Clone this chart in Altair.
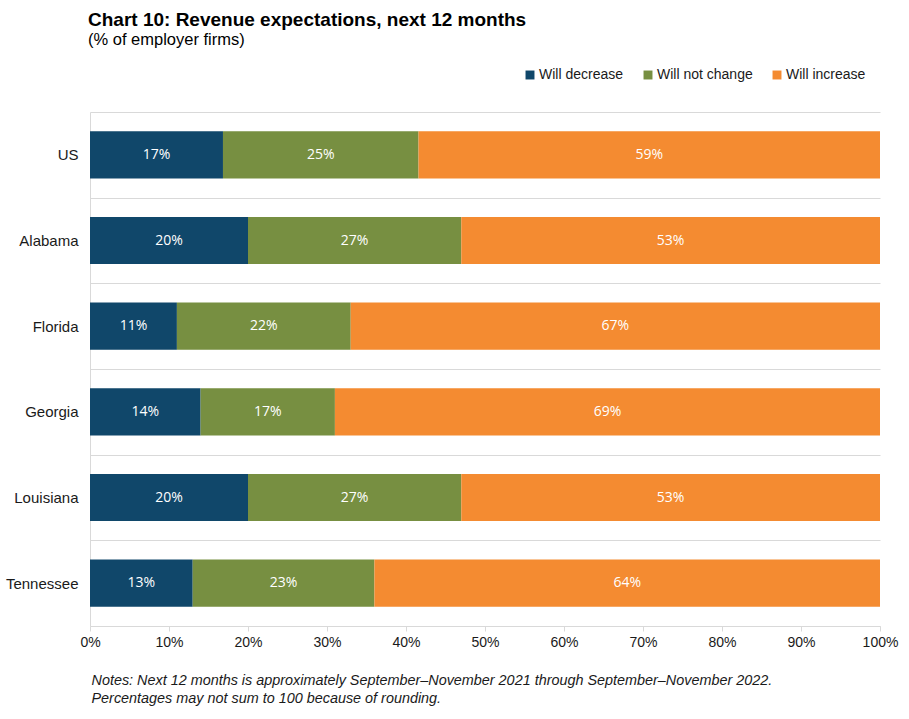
import altair as alt
import pandas as pd

# Survey responses, % of employer firms
regions = ["US", "Alabama", "Florida", "Georgia", "Louisiana", "Tennessee"]
will_decrease = [17, 20, 11, 14, 20, 13]
will_not_change = [25, 27, 22, 17, 27, 23]
will_increase = [59, 53, 67, 69, 53, 64]

responses = ["Will decrease", "Will not change", "Will increase"]
colors = ["#10476A", "#778F41", "#F48B31"]
x_ticks = [i / 10 for i in range(11)]

rows = []
for i, r in enumerate(regions):
    for k, (resp, vals) in enumerate(zip(responses, [will_decrease, will_not_change, will_increase])):
        rows.append({"region": r, "response": resp, "order": k, "value": vals[i]})
df = pd.DataFrame(rows)

notes = [
    "Notes: Next 12 months is approximately September\u2013November 2021 through September\u2013November 2022.",
    "Percentages may not sum to 100 because of rounding.",
]

base = alt.Chart(df).transform_stack(
    stack="value",
    groupby=["region"],
    as_=["x0", "x1"],
    offset="normalize",
    sort=[alt.SortField("order", order="ascending")],
).transform_calculate(
    xmid="(datum.x0 + datum.x1) / 2",
    label="datum.value + '%'",
)

y_enc = alt.Y(
    "region:N",
    sort=regions,
    title=None,
    scale=alt.Scale(paddingInner=0, paddingOuter=0),
    axis=alt.Axis(
        tickBand="extent",
        grid=True,
        gridColor="#D9D9D9",
        gridWidth=1,
        gridOpacity=1,
        domain=True,
        domainColor="#D9D9D9",
        ticks=False,
        labelPadding=12,
        labelFont="Liberation Sans",
        labelFontSize=15,
        labelColor="#1A1A1A",
    ),
)

bars = base.mark_bar(height=alt.RelativeBandSize(0.55)).encode(
    x=alt.X(
        "x0:Q",
        scale=alt.Scale(domain=[0, 1], nice=False),
        axis=alt.Axis(
            values=x_ticks,
            format=".0%",
            grid=False,
            labelFlush=False,
            domainColor="#D9D9D9",
            tickColor="#D9D9D9",
            tickSize=5,
            labelPadding=4,
            labelFont="Liberation Sans",
            labelFontSize=14,
            labelColor="#1A1A1A",
            title=notes,
            titleFont="Liberation Sans",
            titleFontSize=14.4,
            titleFontWeight="normal",
            titleFontStyle="italic",
            titleColor="#1A1A1A",
            titleAnchor="start",
            titleAlign="left",
            titleBaseline="top",
            titleLineHeight=18,
            titleX=1,
            titleY=47,
        ),
    ),
    x2="x1:Q",
    y=y_enc,
    color=alt.Color(
        "response:N",
        scale=alt.Scale(domain=responses, range=colors),
        legend=alt.Legend(
            title=None,
            orient="none",
            direction="horizontal",
            legendX=433,
            legendY=-44,
            symbolType="square",
            symbolSize=80,
            symbolStrokeWidth=0,
            labelFont="Liberation Sans",
            labelFontSize=14,
            labelColor="#1A1A1A",
            labelOffset=2,
            columnPadding=17,
        ),
    ),
)

labels = base.mark_text(
    font="Open Sans",
    fontSize=14,
    color="#FFFFFF",
).encode(
    x="xmid:Q",
    y=alt.Y("region:N", sort=regions),
    text="label:N",
)

chart = (
    alt.layer(bars, labels)
    .properties(
        width=790,
        height=514,
        autosize=alt.AutoSizeParams(type="none"),
        padding={"left": 90, "top": 112, "right": 29, "bottom": 93},
        title=alt.TitleParams(
            text="Chart 10: Revenue expectations, next 12 months",
            subtitle="(% of employer firms)",
            anchor="start",
            frame="group",
            orient="top",
            font="Liberation Sans",
            fontSize=19,
            fontWeight="bold",
            color="#000000",
            subtitleFont="Liberation Sans",
            subtitleFontSize=16.5,
            subtitleColor="#000000",
            subtitlePadding=2,
            dx=-2,
            offset=20,
        ),
    )
    .configure_view(stroke=None)
)

chart.save("out.html", embed_options={"renderer": "svg", "actions": False})
